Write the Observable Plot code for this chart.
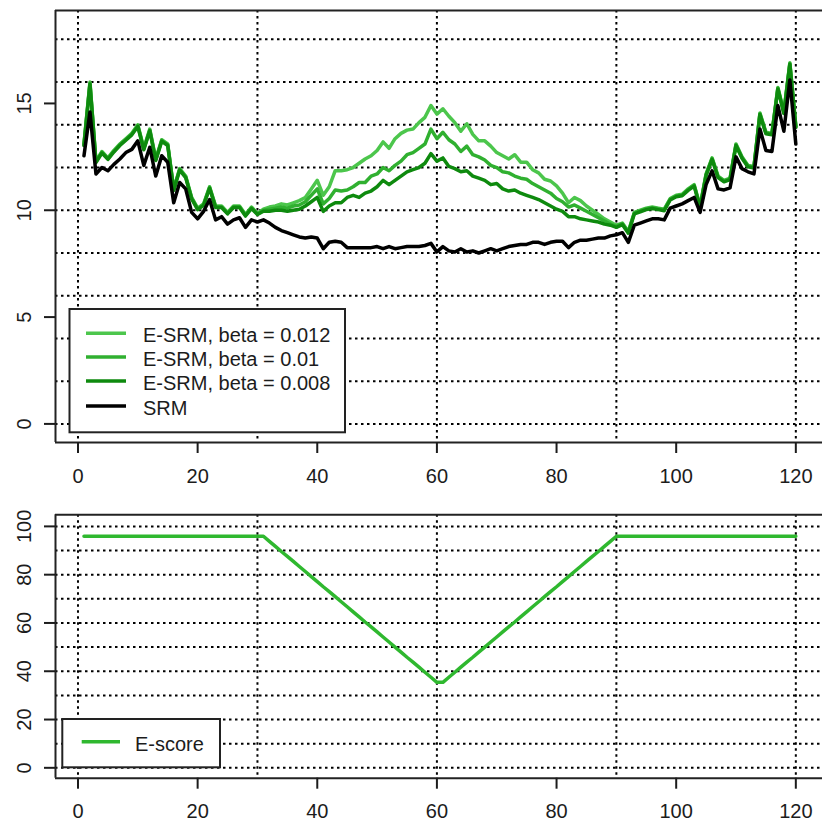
<!DOCTYPE html>
<html><head><meta charset="utf-8">
<script src="https://cdn.jsdelivr.net/npm/d3@7"></script>
<script src="https://cdn.jsdelivr.net/npm/@observablehq/plot@0.6"></script>
<style>body{margin:0;background:#fff}#chart svg{display:block}</style>
</head><body><div id="chart"></div>
<script>
// time index 1..120
const time = d3.range(1, 121);

const srm = [
12.55,14.6,11.7,12.0,11.85,12.15,12.4,12.7,12.85,13.25,
12.1,12.95,11.6,12.55,12.25,10.35,11.3,11.0,9.9,9.6,
9.95,10.5,9.55,9.7,9.35,9.55,9.65,9.2,9.55,9.45,
9.55,9.4,9.2,9.05,8.95,8.85,8.75,8.7,8.75,8.7,
8.2,8.5,8.55,8.5,8.25,8.25,8.25,8.25,8.25,8.3,
8.2,8.3,8.2,8.25,8.3,8.3,8.3,8.35,8.45,8.05,
8.3,8.1,8.05,8.2,8.05,8.1,8.0,8.1,8.2,8.1,
8.2,8.3,8.35,8.4,8.4,8.5,8.5,8.4,8.5,8.55,
8.55,8.25,8.5,8.6,8.6,8.65,8.7,8.7,8.8,8.85,
8.95,8.5,9.3,9.4,9.5,9.6,9.6,9.55,10.1,10.2,
10.3,10.45,10.6,9.9,11.2,11.85,11.0,10.95,11.05,12.5,
11.95,11.8,11.7,13.8,12.8,12.75,14.9,13.7,16.1,13.1];

const esrm012 = [
13.1,16.0,12.3,12.75,12.45,12.8,13.1,13.35,13.6,14.0,
12.9,13.8,12.4,13.3,13.1,11.0,11.95,11.6,10.6,10.1,
10.3,11.1,10.2,10.2,9.9,10.2,10.2,9.8,10.15,9.85,
10.05,10.15,10.2,10.3,10.25,10.35,10.45,10.6,11.0,11.4,
10.7,11.1,11.85,11.85,11.9,12.0,12.2,12.4,12.55,12.8,
13.2,12.9,13.35,13.6,13.75,13.8,14.1,14.35,14.9,14.5,
14.75,14.4,14.1,13.7,14.05,13.55,13.25,13.25,13.0,12.7,
12.55,12.4,12.6,12.25,12.25,11.9,11.75,11.45,11.37,11.14,
10.8,10.35,10.6,10.45,10.2,10.0,9.8,9.6,9.45,9.3,
9.4,9.0,9.9,10.0,10.1,10.15,10.1,10.05,10.55,10.7,
10.75,11.0,11.2,10.2,11.7,12.45,11.6,11.4,11.5,13.1,
12.5,12.1,12.05,14.55,13.65,13.6,15.75,14.6,16.9,13.95];

const esrm010 = [
13.07,15.95,12.27,12.72,12.42,12.77,13.07,13.32,13.57,13.96,
12.87,13.76,12.37,13.27,13.07,10.97,11.92,11.57,10.57,10.07,
10.27,11.07,10.17,10.17,9.87,10.17,10.17,9.77,10.12,9.83,
10.0,10.05,10.1,10.15,10.1,10.2,10.25,10.4,10.7,11.0,
10.3,10.55,10.95,10.9,10.95,11.1,11.3,11.3,11.6,11.7,
12.0,11.85,12.1,12.3,12.6,12.7,12.9,13.1,13.8,13.35,
13.65,13.3,13.1,12.75,13.0,12.6,12.5,12.35,12.1,12.0,
11.8,11.75,11.6,11.5,11.45,11.25,11.1,10.95,10.8,10.55,
10.4,10.15,10.25,10.1,9.95,9.8,9.65,9.5,9.35,9.25,
9.37,8.97,9.87,9.97,10.07,10.12,10.07,10.02,10.52,10.67,
10.72,10.97,11.17,10.17,11.67,12.42,11.57,11.37,11.47,13.07,
12.47,12.07,12.02,14.52,13.62,13.57,15.72,14.57,16.87,13.92];

const esrm008 = [
13.03,15.9,12.23,12.68,12.38,12.73,13.03,13.28,13.53,13.92,
12.83,13.72,12.33,13.23,13.03,10.93,11.88,11.53,10.53,10.03,
10.23,11.03,10.13,10.13,9.83,10.13,10.13,9.73,10.08,9.8,
9.95,9.95,10.0,10.0,9.95,10.0,10.05,10.2,10.4,10.6,
9.95,10.2,10.35,10.35,10.6,10.7,10.6,10.8,10.9,11.1,
11.4,11.2,11.4,11.6,11.8,11.9,12.0,12.2,12.65,12.3,
12.45,12.05,11.95,11.8,11.85,11.6,11.5,11.4,11.2,11.25,
11.0,10.9,10.95,10.8,10.7,10.6,10.5,10.35,10.2,10.05,
9.95,9.7,9.7,9.6,9.55,9.5,9.45,9.35,9.3,9.2,
9.33,8.93,9.83,9.93,10.03,10.08,10.03,9.98,10.48,10.63,
10.68,10.93,11.13,10.13,11.63,12.38,11.53,11.33,11.43,13.03,
12.43,12.03,11.98,14.48,13.58,13.53,15.68,14.53,16.83,13.88];

const escore = [
95.9,95.9,95.9,95.9,95.9,95.9,95.9,95.9,95.9,95.9,
95.9,95.9,95.9,95.9,95.9,95.9,95.9,95.9,95.9,95.9,
95.9,95.9,95.9,95.9,95.9,95.9,95.9,95.9,95.9,95.9,
95.9,93.8,91.7,89.6,87.6,85.5,83.4,81.3,79.2,77.1,
75.0,73.0,70.9,68.8,66.7,64.6,62.5,60.4,58.4,56.3,
54.2,52.1,50.0,47.9,45.8,43.8,41.7,39.6,37.5,35.4,
35.4,37.5,39.6,41.7,43.8,45.8,47.9,50.0,52.1,54.2,
56.3,58.4,60.4,62.5,64.6,66.7,68.8,70.9,73.0,75.0,
77.1,79.2,81.3,83.4,85.5,87.6,89.6,91.7,93.8,95.9,
95.9,95.9,95.9,95.9,95.9,95.9,95.9,95.9,95.9,95.9,
95.9,95.9,95.9,95.9,95.9,95.9,95.9,95.9,95.9,95.9,
95.9,95.9,95.9,95.9,95.9,95.9,95.9,95.9,95.9,95.9];

const seriesNames = ["E-SRM, beta = 0.012", "E-SRM, beta = 0.01", "E-SRM, beta = 0.008", "SRM"];
const seriesColors = ["#4cc64c", "#30b030", "#0e8a0e", "#000000"];
const seriesValues = [esrm012, esrm010, esrm008, srm];
const escoreName = "E-score";
const escoreColor = "#2fb82f";

const xTicks = [0, 20, 40, 60, 80, 100, 120];
const xGrid = [0, 30, 60, 90, 120];
const yTicksTop = [0, 5, 10, 15];
const yGridTop = [0, 2, 4, 6, 8, 10, 12, 14, 16, 18];
const yTicksBottom = [0, 20, 40, 60, 80, 100];
const yGridBottom = [0, 10, 20, 30, 40, 50, 60, 70, 80, 90, 100];

const FONT = "'Liberation Sans', Arial, Helvetica, sans-serif";
const TEXT = "#1c1c1c";
const xDomain = [-3.76, 124.76];
const grid = {stroke: "#000", strokeWidth: 2, strokeDasharray: "2.5,3.5"};
const frameStyle = {stroke: "#222", strokeWidth: 2};

function panel({height, marginTop, marginBottom, yDomain, yTicks, yGrid, lines}) {
  return Plot.plot({
    width: 822, height, marginTop, marginBottom, marginLeft: 55, marginRight: 0,
    style: {fontFamily: FONT, fontSize: "20px", color: TEXT, background: "#fff"},
    x: {domain: xDomain, range: [55, 823.8]},
    y: {domain: yDomain},
    marks: [
      Plot.ruleX(xGrid, grid),
      Plot.ruleY(yGrid, grid),
      ...lines,
      Plot.ruleX([xDomain[0]], frameStyle),
      Plot.ruleY(yDomain, frameStyle),
      Plot.axisX({ticks: xTicks, tickSize: 11, tickPadding: 15, label: null, fontSize: 20, strokeWidth: 2}),
      Plot.axisY({ticks: yTicks, tickSize: 11, tickRotate: -90, tickPadding: 14, label: null, fontSize: 20, strokeWidth: 2})
    ]
  });
}

const topPlot = panel({
  height: 495, marginTop: 10, marginBottom: 53,
  yDomain: [-0.87, 19.35], yTicks: yTicksTop, yGrid: yGridTop,
  lines: seriesValues.map((vals, i) => Plot.line(time, {x: time, y: vals, stroke: seriesColors[i], strokeWidth: 3.5}))
});
const bottomPlot = panel({
  height: 331, marginTop: 19.3, marginBottom: 48.3,
  yDomain: [-4.3, 104.8], yTicks: yTicksBottom, yGrid: yGridBottom,
  lines: [Plot.line(time, {x: time, y: escore, stroke: escoreColor, strokeWidth: 3.5})]
});

function legend(svg, {x, y, w, h, items, lineX0, lineX1, textX, rowYs}) {
  const g = d3.select(svg).append("g").attr("text-anchor", "start");
  g.append("rect").attr("x", x).attr("y", y).attr("width", w).attr("height", h)
    .attr("fill", "#fff").attr("stroke", "#222").attr("stroke-width", 2);
  items.forEach((it, i) => {
    g.append("line").attr("x1", lineX0).attr("x2", lineX1).attr("y1", rowYs[i]).attr("y2", rowYs[i])
      .attr("stroke", it.color).attr("stroke-width", 3.5);
    g.append("text").attr("x", textX).attr("y", rowYs[i] + 2).attr("dominant-baseline", "central")
      .attr("text-anchor", "start")
      .attr("fill", TEXT).attr("font-family", FONT).attr("font-size", 20).text(it.name);
  });
}

legend(topPlot, {x: 69.5, y: 309, w: 275.5, h: 123.3, lineX0: 86, lineX1: 126, textX: 143,
  rowYs: [333.3, 357, 381, 406], items: seriesNames.map((n, i) => ({name: n, color: seriesColors[i]}))});
legend(bottomPlot, {x: 62.3, y: 224, w: 157.7, h: 48.3, lineX0: 81.7, lineX1: 120, textX: 135,
  rowYs: [246.7], items: [{name: escoreName, color: escoreColor}]});

document.getElementById("chart").append(topPlot, bottomPlot);
</script>
</body></html>
